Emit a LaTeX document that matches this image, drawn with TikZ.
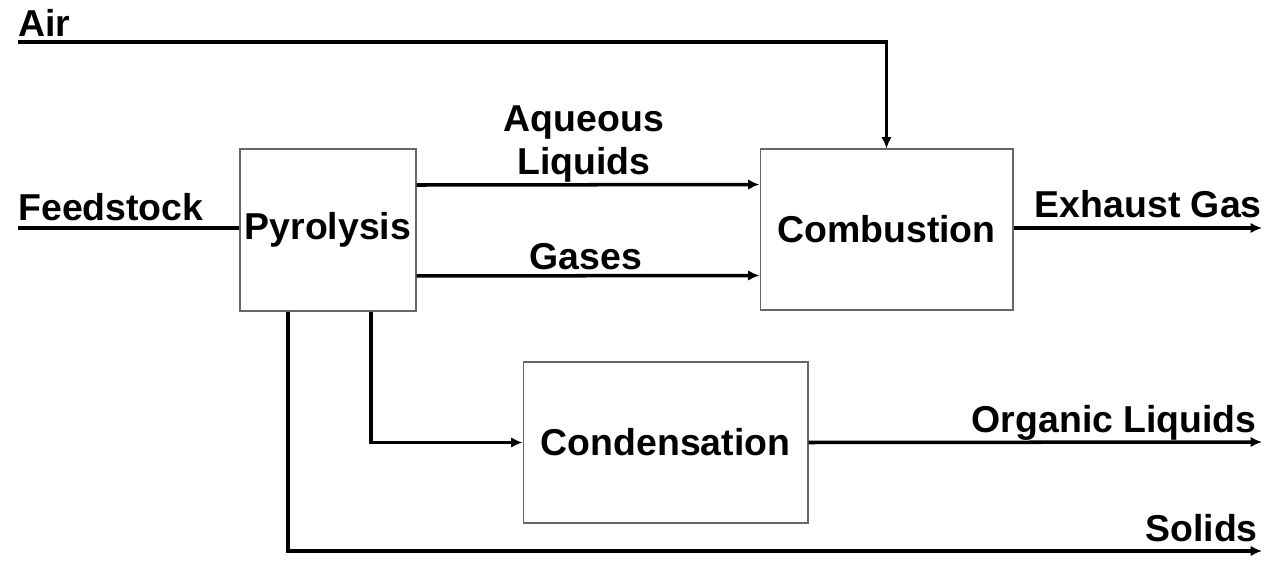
\documentclass[tikz,border=0pt]{standalone}
\usepackage{fontspec}
\setmainfont{Liberation Sans}
\usetikzlibrary{arrows.meta}
\begin{document}
\begin{tikzpicture}
[x=0.02cm, y=-0.02cm, >={Latex[length=6.5pt,width=6pt]},
 unit/.style={draw=black!60, line width=0.6pt, inner sep=0pt, font=\bfseries\fontsize{21.3}{24.6}\selectfont},
 lbl/.style={inner sep=0pt, font=\bfseries\fontsize{21.3}{24.6}\selectfont},
 flow/.style={line width=2pt}]
\useasboundingbox (0,0) rectangle (1265,584);
% units
\node[unit, minimum width=3.52cm, minimum height=3.24cm] (Pyro) at (328,230) {Pyrolysis};
\node[unit, minimum width=5.06cm, minimum height=3.22cm] (Comb) at (886.5,229.5) {Combustion};
\node[unit, minimum width=5.7cm, minimum height=3.22cm] (Cond) at (665.5,442.5) {Condensation};
% stream ends
\coordinate (AirIn) at (18,42);
\coordinate (FeedIn) at (18,228);
\coordinate (ExOut) at (1262,228);
\coordinate (OrgOut) at (1262,442);
\coordinate (SolOut) at (1262,551);
% labels
\node[lbl, anchor=base west] (AirLbl) at (18,37) {Air};
\node[lbl, anchor=base west] (FeedLbl) at (18,221) {Feedstock};
\node[lbl, anchor=south, align=center] (AqLbl) at (584,183) {Aqueous\\Liquids};
\node[lbl, anchor=base] (GasLbl) at (586,270) {Gases};
\node[lbl, anchor=base east] (ExLbl) at (1262,218) {Exhaust Gas};
\node[lbl, anchor=base east] (OrgLbl) at (1257,432) {Organic Liquids};
\node[lbl, anchor=base east] (SolLbl) at (1258,541) {Solids};
% streams
\draw[flow, ->] (AirIn) -| (Comb.north);
\draw[flow] (FeedIn) -- (FeedIn -| Pyro.west);
\draw[flow, ->] ([yshift=0.9cm]Pyro.east) -- ([yshift=0.9cm]Comb.west);
\draw[flow, ->] ([yshift=-0.92cm]Pyro.east) -- ([yshift=-0.92cm]Comb.west);
\draw[flow, ->] (Comb.east |- ExOut) -- (ExOut);
\draw[flow, ->] ([xshift=0.86cm]Pyro.south) |- (Cond.west);
\draw[flow, ->] (Cond.east) -- (OrgOut);
\draw[flow, ->] ([xshift=-0.8cm]Pyro.south) |- (SolOut);
\end{tikzpicture}
\end{document}
